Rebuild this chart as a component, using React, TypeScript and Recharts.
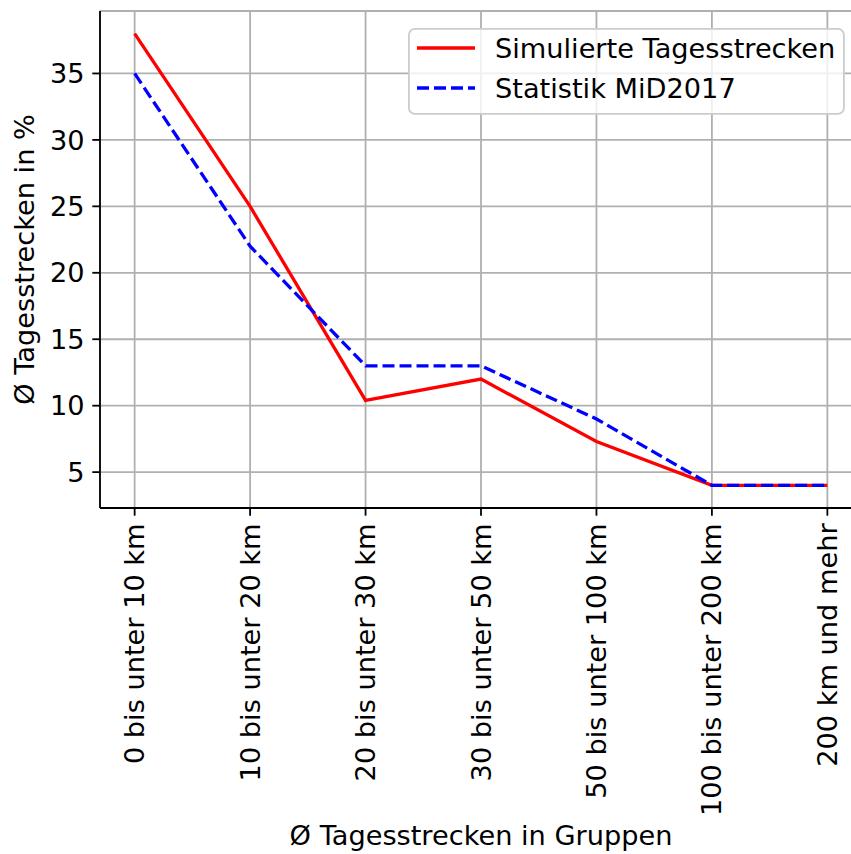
import React from "react";
import {
  LineChart,
  Line,
  XAxis,
  YAxis,
  CartesianGrid,
  Legend,
  Label,
} from "recharts";

const categories = [
  "0 bis unter 10 km",
  "10 bis unter 20 km",
  "20 bis unter 30 km",
  "30 bis unter 50 km",
  "50 bis unter 100 km",
  "100 bis unter 200 km",
  "200 km und mehr",
];
const simulierte = [38, 25, 10.4, 12.0, 7.3, 4, 4];
const statistik = [35, 22, 13, 13, 9, 4, 4];
const yTicks = [5, 10, 15, 20, 25, 30, 35];
const xTicks = categories.map((_, i) => i);

const seriesInfo = [
  { key: "sim", name: "Simulierte Tagesstrecken", color: "#ff0000", dash: "" },
  { key: "mid", name: "Statistik MiD2017", color: "#0000ff", dash: "12 5" },
];

const data = categories.map((c, i) => ({
  idx: i,
  cat: c,
  sim: simulierte[i],
  mid: statistik[i],
}));

const FONT = "'DejaVu Sans', sans-serif";
const FS = 27.2;
const LW = 3.3;

const XTick = (props: any) => {
  const { x, y, payload } = props;
  const label = categories[payload.value] ?? "";
  return (
    <text
      x={x}
      y={y}
      transform={`rotate(-90, ${x}, ${y})`}
      textAnchor="end"
      dy="0.35em"
      fontFamily={FONT}
      fontSize={FS}
      fill="#000"
    >
      {label}
    </text>
  );
};

const renderLegend = () => (
  <svg width={437} height={87} style={{ display: "block" }}>
    <rect
      x={0.9}
      y={0.9}
      width={435}
      height={85}
      rx={6}
      ry={6}
      fill="#ffffff"
      fillOpacity={0.8}
      stroke="#cccccc"
      strokeWidth={1.8}
    />
    {seriesInfo.map((s, i) => (
      <g key={s.key}>
        <line
          x1={9}
          x2={67}
          y1={20 + i * 40}
          y2={20 + i * 40}
          stroke={s.color}
          strokeWidth={LW}
          strokeDasharray={s.dash || undefined}
        />
        <text
          x={87}
          y={30 + i * 40}
          fontFamily={FONT}
          fontSize={FS}
          fill="#000"
        >
          {s.name}
        </text>
      </g>
    ))}
  </svg>
);

export default function App() {
  return (
    <div
      style={{
        position: "absolute",
        left: 0,
        top: 0,
        width: 851,
        height: 854,
        overflow: "hidden",
        background: "#fff",
      }}
    >
      <LineChart
        width={880}
        height={854}
        data={data}
        margin={{ top: 11, right: 18, bottom: 0, left: 0 }}
      >
        <CartesianGrid stroke="#b0b0b0" strokeWidth={1.8} />
        <XAxis
          dataKey="idx"
          type="number"
          domain={[-0.3, 6.3]}
          ticks={xTicks}
          interval={0}
          height={346}
          tickSize={7.7}
          tickMargin={7.7}
          tickLine={{ stroke: "#000", strokeWidth: 1.8 }}
          axisLine={{ stroke: "#000", strokeWidth: 1.8 }}
          tick={<XTick />}
          allowDataOverflow
        >
          <Label
            value="Ø Tagesstrecken in Gruppen"
            position="insideBottom"
            offset={9}
            style={{ fontFamily: FONT, fontSize: FS, fill: "#000" }}
          />
        </XAxis>
        <XAxis
          xAxisId="top"
          orientation="top"
          dataKey="idx"
          type="number"
          domain={[-0.3, 6.3]}
          height={0}
          tick={false}
          tickLine={false}
          axisLine={{ stroke: "#000", strokeWidth: 1.8 }}
          allowDataOverflow
        />
        <YAxis
          type="number"
          domain={[2.3, 39.7]}
          ticks={yTicks}
          interval={0}
          width={100}
          tickSize={7.7}
          tickMargin={7.7}
          tickLine={{ stroke: "#000", strokeWidth: 1.8 }}
          axisLine={{ stroke: "#000", strokeWidth: 1.8 }}
          tick={{ fontFamily: FONT, fontSize: FS, fill: "#000" }}
          allowDataOverflow
        >
          <Label
            value="Ø Tagesstrecken in %"
            angle={-90}
            position="insideLeft"
            offset={24}
            style={{
              fontFamily: FONT,
              fontSize: FS,
              fill: "#000",
              textAnchor: "middle",
            }}
          />
        </YAxis>
        <YAxis
          yAxisId="right"
          orientation="right"
          type="number"
          domain={[2.3, 39.7]}
          width={0}
          tick={false}
          tickLine={false}
          axisLine={{ stroke: "#000", strokeWidth: 1.8 }}
          allowDataOverflow
        />
        <Legend
          layout="horizontal"
          verticalAlign="middle"
          align="center"
          content={renderLegend}
          wrapperStyle={{ left: 408, top: 28, width: 437, height: 87 }}
        />
        {seriesInfo.map((s) => (
          <Line
            key={s.key}
            dataKey={s.key}
            name={s.name}
            type="linear"
            stroke={s.color}
            strokeWidth={LW}
            strokeDasharray={s.dash || undefined}
            dot={false}
            activeDot={false}
            isAnimationActive={false}
          />
        ))}
      </LineChart>
    </div>
  );
}
